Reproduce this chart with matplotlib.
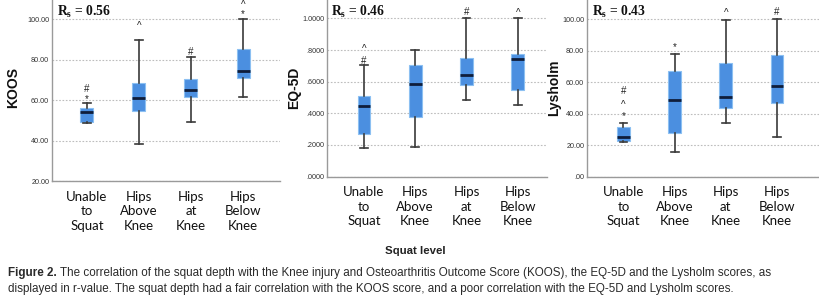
import matplotlib
matplotlib.use("Agg")
import matplotlib.pyplot as plt
from matplotlib import transforms

# ---------------- data ----------------
categories = ["Unable\nto\nSquat", "Hips\nAbove\nKnee", "Hips\nat\nKnee", "Hips\nBelow\nKnee"]

koos_whislo = [48.8, 38.3, 49.1, 61.6]
koos_q1 = [49.0, 54.6, 61.6, 70.7]
koos_med = [54.2, 60.8, 64.9, 74.5]
koos_q3 = [55.9, 68.2, 70.4, 85.2]
koos_whishi = [58.4, 89.6, 81.4, 100.0]
koos_marks = [(1, "*", 61.6), (1, "#", 66.3), (2, "^", 97.5), (3, "#", 84.7),
              (4, "*", 103.4), (4, "^", 107.9)]
koos_ticks = [20, 40, 60, 80, 100]
koos_ticklabels = ["20.00", "40.00", "60.00", "80.00", "100.00"]

eq_whislo = [0.180, 0.185, 0.485, 0.453]
eq_q1 = [0.271, 0.379, 0.580, 0.548]
eq_med = [0.444, 0.584, 0.645, 0.746]
eq_q3 = [0.512, 0.706, 0.749, 0.776]
eq_whishi = [0.708, 0.800, 1.000, 1.000]
eq_marks = [(1, "#", 0.746), (1, "^", 0.820), (3, "#", 1.054), (4, "^", 1.046)]
eq_ticks = [0.0, 0.2, 0.4, 0.6, 0.8, 1.0]
eq_ticklabels = [".0000", ".2000", ".4000", ".6000", ".8000", "1.0000"]

ly_whislo = [22.1, 15.8, 34.2, 25.3]
ly_q1 = [22.7, 27.4, 43.7, 46.5]
ly_med = [24.9, 48.6, 50.3, 57.7]
ly_q3 = [31.6, 67.2, 71.9, 77.1]
ly_whishi = [34.2, 77.6, 99.4, 100.0]
ly_marks = [(1, "*", 39.5), (1, "^", 46.9), (1, "#", 55.6), (2, "*", 83.5),
            (3, "^", 105.3), (4, "#", 105.7)]
ly_ticks = [0, 20, 40, 60, 80, 100]
ly_ticklabels = [".00", "20.00", "40.00", "60.00", "80.00", "100.00"]

rs_values = ["0.56", "0.46", "0.43"]
ylabels = ["KOOS", "EQ-5D", "Lysholm"]

# ---------------- style ----------------
plt.rcParams["mathtext.fontset"] = "custom"
plt.rcParams["mathtext.rm"] = "Liberation Serif:bold"
plt.rcParams["mathtext.bf"] = "Liberation Serif:bold"

W, H = 819, 304
fig = plt.figure(figsize=(W / 100, H / 100), dpi=100)
fig.patch.set_facecolor("white")

def px_axes(x0, x1, ybot, ytop):
    return fig.add_axes([x0 / W, 1 - ybot / H, (x1 - x0) / W, (ybot - ytop) / H])

panels = [
    dict(rect=(52, 280, 181, 0), ylim=(20, 109.4), xlim=(0.33, 4.71),
         data=(koos_whislo, koos_q1, koos_med, koos_q3, koos_whishi),
         marks=koos_marks, ticks=koos_ticks, tl=koos_ticklabels, ylab_x=13),
    dict(rect=(327, 547, 176.6, 0), ylim=(0, 1.116), xlim=(0.28, 4.57),
         data=(eq_whislo, eq_q1, eq_med, eq_q3, eq_whishi),
         marks=eq_marks, ticks=eq_ticks, tl=eq_ticklabels, ylab_x=294),
    dict(rect=(587, 819, 176.5, 0), ylim=(0, 112.1), xlim=(0.287, 4.82),
         data=(ly_whislo, ly_q1, ly_med, ly_q3, ly_whishi),
         marks=ly_marks, ticks=ly_ticks, tl=ly_ticklabels, ylab_x=554),
]

box_face = "#4b8fe0"
box_edge = "#8cc0f2"
med_col = "#0f1d3a"
whisk_col = "#3a3a3a"
spine_col = "#9a9a9a"

for i, p in enumerate(panels):
    ax = px_axes(*p["rect"])
    lo, q1, med, q3, hi = p["data"]
    stats = [dict(whislo=lo[k], q1=q1[k], med=med[k], q3=q3[k], whishi=hi[k], fliers=[])
             for k in range(len(categories))]
    ax.bxp(stats, positions=[1, 2, 3, 4], widths=0.25, patch_artist=True,
           showfliers=False,
           boxprops=dict(facecolor=box_face, edgecolor=box_edge, linewidth=0.8),
           medianprops=dict(color=med_col, linewidth=2.0),
           whiskerprops=dict(color=whisk_col, linewidth=1.2),
           capprops=dict(color=whisk_col, linewidth=1.2),
           capwidths=0.15, zorder=3)
    ax.set_xlim(*p["xlim"])
    ax.set_ylim(*p["ylim"])
    ax.set_yticks(p["ticks"])
    ax.set_yticklabels(p["tl"], fontsize=5.2, color="#333333",
                       family="Liberation Sans")
    ax.set_xticks([1, 2, 3, 4])
    ax.set_xticklabels(categories, fontsize=9.5, family="Lato", color="#111111",
                       linespacing=1.25, va="top")
    ax.tick_params(axis="y", length=0, pad=2)
    ax.tick_params(axis="x", length=0, pad=7)
    ax.grid(axis="y", linestyle=(0, (1.5, 1.5)), color="#bdbdbd", linewidth=0.8, zorder=0)
    ax.set_axisbelow(True)
    for s in ["top", "right"]:
        ax.spines[s].set_visible(False)
    for s in ["left", "bottom"]:
        ax.spines[s].set_color(spine_col)
        ax.spines[s].set_linewidth(1.0)
    shift = transforms.offset_copy(ax.transData, fig=fig, x=0, y=-2.0, units="dots")
    for (pos, sym, yv) in p["marks"]:
        ax.text(pos, yv, sym, ha="center", va="center", fontsize=7,
                family="Liberation Sans", color="#222222", zorder=4,
                transform=shift)
    ax.text(0.02, 0.935, "R$_\\mathbf{s}$ = " + rs_values[i],
            transform=ax.transAxes, fontsize=9.8, ha="left", va="center",
            family="Liberation Serif", fontweight="bold", color="#111111")
    fig.text(p["ylab_x"] / W, 1 - 88 / H, ylabels[i], rotation=90, ha="center",
             va="center", fontsize=10, fontweight="bold", family="Liberation Sans",
             color="#111111")

fig.text(415 / W, 1 - 251 / H, "Squat level", ha="center", va="center",
         fontsize=8.2, family="Liberation Sans",
         fontweight="bold", color="#222222")

cap_fam = "Liberation Sans"
cap_col = "#2a2a2a"
cap_fs = 8.4
t1 = fig.text(8 / W, 1 - 273 / H, "Figure 2.", ha="left", va="center", fontsize=cap_fs,
              family=cap_fam, fontweight="bold", color=cap_col)
r = fig.canvas.get_renderer()
bb = t1.get_window_extent(renderer=r)
fig.text(bb.x1 / W, 1 - 273 / H,
         " The correlation of the squat depth with the Knee injury and Osteoarthritis "
         "Outcome Score (KOOS), the EQ-5D and the Lysholm scores, as",
         ha="left", va="center", fontsize=cap_fs, family=cap_fam, color=cap_col)
fig.text(8 / W, 1 - 289 / H,
         "displayed in r-value. The squat depth had a fair correlation with the KOOS "
         "score, and a poor correlation with the EQ-5D and Lysholm scores.",
         ha="left", va="center", fontsize=cap_fs, family=cap_fam, color=cap_col)

fig.savefig("out.png", dpi=100, facecolor="white")
